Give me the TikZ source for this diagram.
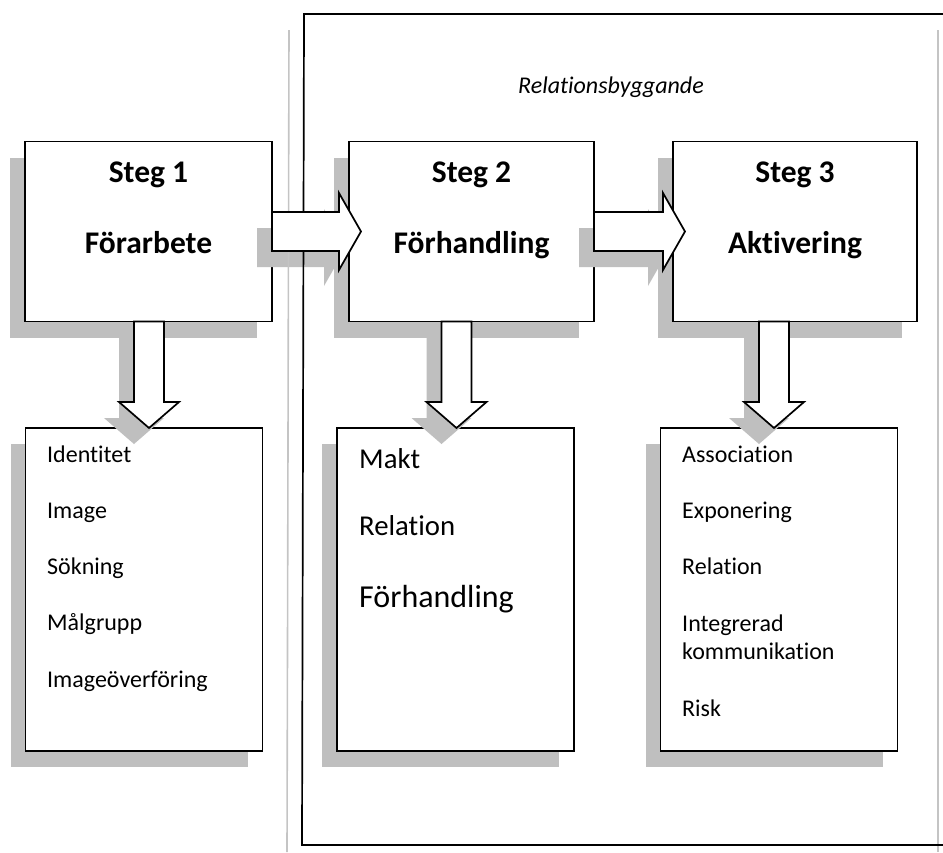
\documentclass[tikz,border=0pt]{standalone}
\usepackage{fontspec}
\setmainfont{Carlito}[Ligatures={NoCommon}]
\usetikzlibrary{calc}

\definecolor{shadowgray}{HTML}{BFBFBF}
\definecolor{rulegray}{HTML}{C4C4C4}

\pgfdeclarelayer{boxshadow}
\pgfdeclarelayer{arrowshadow}
\pgfdeclarelayer{framelayer}
\pgfdeclarelayer{arrowlayer}
\pgfsetlayers{boxshadow,main,arrowshadow,framelayer,arrowlayer}

% Block arrow pointing right, from the east side of #1 into the west side of #2,
% moved by (#3,#4)
\newcommand\sideArrow[4]{%
  let \p1=(#1.east), \p2=(#2.west) in
  ({\x1+(#3)},{\y1+19.5+(#4)}) -- ({\x2-10+(#3)},{\y1+19.5+(#4)})
  -- ({\x2-10+(#3)},{\y1+38.5+(#4)}) -- ({\x2+12+(#3)},{\y1+(#4)})
  -- ({\x2-10+(#3)},{\y1-38.5+(#4)}) -- ({\x2-10+(#3)},{\y1-19.5+(#4)})
  -- ({\x1+(#3)},{\y1-19.5+(#4)}) -- cycle}

% Block arrow pointing down, from the south side of #1 to the north side of #2,
% its axis #3 right of the centre of #2, moved by (#4,#5)
\newcommand\downArrow[5]{%
  let \p1=(#1.south), \p2=(#2.north) in
  ({\x2+(#3)-15+(#4)},{\y1+(#5)}) -- ({\x2+(#3)-15+(#4)},{\y2+26+(#5)})
  -- ({\x2+(#3)-30+(#4)},{\y2+26+(#5)}) -- ({\x2+(#3)+(#4)},{\y2+(#5)})
  -- ({\x2+(#3)+30+(#4)},{\y2+26+(#5)}) -- ({\x2+(#3)+15+(#4)},{\y2+26+(#5)})
  -- ({\x2+(#3)+15+(#4)},{\y1+(#5)}) -- cycle}

\begin{document}
\begin{tikzpicture}[x=1pt,y=1pt,
  box/.style={draw=black, line width=1.7pt, fill=white, inner sep=0pt, outer sep=0pt},
  stepbox/.style={box, minimum width=#1, minimum height=180},
  listbox/.style={box, minimum width=237, minimum height=323},
  boxshade/.style={fill=shadowgray},
  arrowbody/.style={draw=black, line width=1.7pt, fill=white, line join=miter},
  frameline/.style={draw=black, line width=1.7pt},
  ruleline/.style={draw=rulegray, line width=1.6pt},
  title/.style={font=\fontsize{31.5}{36}\selectfont\bfseries, anchor=base, inner sep=0pt},
  item/.style={font=\fontsize{24}{28}\selectfont, anchor=base west, inner sep=0pt},
  miditem/.style={font=\fontsize{28.75}{32}\selectfont, anchor=base west, inner sep=0pt},
  bigitem/.style={font=\fontsize{32}{36}\selectfont, anchor=base west, inner sep=0pt},
  caption/.style={font=\fontsize{24}{28}\selectfont\itshape, anchor=base west, inner sep=0pt}]

\useasboundingbox (0,0) rectangle (943,-852);

% step boxes
\node[stepbox=247] (s1) at (148.5,-231.5) {};
\node[stepbox=245] (s2) at (471.5,-231.5) {};
\node[stepbox=244] (s3) at (795,-231.5) {};

% boxes with keywords
\node[listbox] (l1) at (144,-589.5) {};
\node[listbox] (l2) at (455.5,-589.5) {};
\node[listbox] (l3) at (779,-589.5) {};

% drop shadows of the boxes
\begin{pgfonlayer}{boxshadow}
  \foreach \b in {s1,s2,s3,l1,l2,l3}
    \fill[boxshade] ([shift={(-15,-16)}]\b.south west) rectangle ([shift={(-15,-16)}]\b.north east);
\end{pgfonlayer}

% drop shadows of the arrows
\begin{pgfonlayer}{arrowshadow}
  \fill[boxshade] \sideArrow{s1}{s2}{-15}{-16};
  \fill[boxshade] \sideArrow{s2}{s3}{-15}{-16};
  \fill[boxshade] \downArrow{s1}{l1}{5}{-15}{-16};
  \fill[boxshade] \downArrow{s2}{l2}{1}{-15}{-16};
  \fill[boxshade] \downArrow{s3}{l3}{-5}{-15}{-16};
\end{pgfonlayer}

% the relationship region and the page rules
\begin{pgfonlayer}{framelayer}
  \draw[ruleline] (289,-30) -- (287,-852);
  \draw[ruleline] (938,-30) -- (938,-852);
  \draw[frameline] (943,-14) -- (304,-14) -- (302,-845) -- (943,-845);
\end{pgfonlayer}

% arrows
\begin{pgfonlayer}{arrowlayer}
  \path[arrowbody] \sideArrow{s1}{s2}{0}{0};
  \path[arrowbody] \sideArrow{s2}{s3}{0}{0};
  \path[arrowbody] \downArrow{s1}{l1}{5}{0}{0};
  \path[arrowbody] \downArrow{s2}{l2}{1}{0}{0};
  \path[arrowbody] \downArrow{s3}{l3}{-5}{0}{0};
\end{pgfonlayer}

\node[caption] (rel) at (518,-93) {Relationsbyggande};

% step titles
\node[title] (s1a) at ([yshift=-41]s1.north) {Steg 1};
\node[title] (s1b) at ([yshift=-112]s1.north) {Förarbete};
\node[title] (s2a) at ([yshift=-41]s2.north) {Steg 2};
\node[title] (s2b) at ([yshift=-112]s2.north) {Förhandling};
\node[title] (s3a) at ([yshift=-41]s3.north) {Steg 3};
\node[title] (s3b) at ([yshift=-112]s3.north) {Aktivering};

% keywords, step 1
\node[item] (k11) at ([shift={(21.5,-34)}]l1.north west) {Identitet};
\node[item] (k12) at ([shift={(21.5,-90.25)}]l1.north west) {Image};
\node[item] (k13) at ([shift={(21.5,-146.5)}]l1.north west) {Sökning};
\node[item] (k14) at ([shift={(21.5,-202.75)}]l1.north west) {Målgrupp};
\node[item] (k15) at ([shift={(21.5,-259)}]l1.north west) {Imageöverföring};

% keywords, step 2
\node[miditem] (k21) at ([shift={(22,-40)}]l2.north west) {Makt};
\node[miditem] (k22) at ([shift={(22,-107)}]l2.north west) {Relation};
\node[bigitem] (k23) at ([shift={(22,-179)}]l2.north west) {Förhandling};

% keywords, step 3
\node[item] (k31) at ([shift={(21.5,-34)}]l3.north west) {Association};
\node[item] (k32) at ([shift={(21.5,-90)}]l3.north west) {Exponering};
\node[item] (k33) at ([shift={(21.5,-146)}]l3.north west) {Relation};
\node[item] (k34) at ([shift={(21.5,-203)}]l3.north west) {Integrerad};
\node[item] (k35) at ([shift={(21.5,-231)}]l3.north west) {kommunikation};
\node[item] (k36) at ([shift={(21.5,-288)}]l3.north west) {Risk};

\end{tikzpicture}
\end{document}
